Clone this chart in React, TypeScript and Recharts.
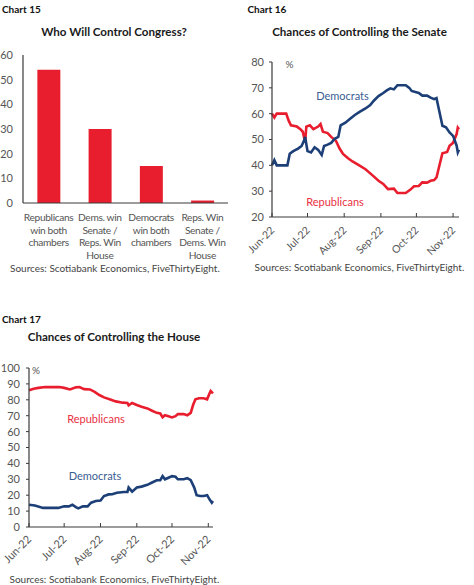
import React from 'react';
import { BarChart, Bar, XAxis, YAxis, LineChart, Line } from 'recharts';

// ---------- Data ----------
const congressCategories = [
  'Republicans\nwin both\nchambers',
  'Dems. win\nSenate /\nReps. Win\nHouse',
  'Democrats\nwin both\nchambers',
  'Reps. Win\nSenate /\nDems. Win\nHouse',
];
const congressValues = [54, 30, 15, 1];
const congressTicks = [0, 10, 20, 30, 40, 50, 60];

const monthTicks = [0, 30, 61, 92, 122, 153];
const monthLabels = ['Jun-22', 'Jul-22', 'Aug-22', 'Sep-22', 'Oct-22', 'Nov-22'];

const senateTicks = [20, 30, 40, 50, 60, 70, 80];
const senateDemDays = [0, 2, 4, 13, 15, 18, 22, 25, 27, 28, 30, 33, 36, 39, 42, 44, 47, 50, 53, 56, 58, 62, 66, 70, 74, 79, 83, 86, 90, 94, 97, 100, 103, 106, 113, 116, 118, 124, 127, 131, 134, 137, 139, 141, 144, 147, 150, 153, 156, 157, 158];
const senateDemPct = [40, 42, 40, 40, 44.5, 45.5, 46.5, 47.5, 49.5, 51, 45.5, 45, 47, 46, 44, 47.5, 48, 48.7, 50.3, 51, 55.5, 56.5, 58, 59.5, 60.7, 62, 63.3, 65, 66.8, 68, 69, 69.8, 69.4, 71, 71, 70, 68.8, 68, 67, 67, 66.2, 65.6, 66, 61.7, 55.3, 54.7, 52.7, 51.4, 47.6, 45, 46];
const senateRepDays = [0, 2, 4, 12, 14, 16, 21, 24, 26, 28, 29, 32, 35, 39, 41, 43, 47, 50, 54, 57, 60, 64, 68, 73, 79, 84, 90, 94, 98, 103, 106, 113, 117, 120, 124, 127, 131, 134, 137, 139, 142, 144, 148, 150, 153, 156, 157, 158];
const senateRepPct = [60, 58.5, 60, 60, 57.4, 55.5, 55, 54, 53, 49, 55, 55.5, 54, 55, 56, 53, 52.5, 51, 49.5, 46.6, 44.4, 42.8, 41.5, 40.2, 38.5, 36.5, 34, 32.8, 30.8, 31, 29.3, 29.3, 30.6, 31.9, 32, 33.4, 33.3, 34, 34.3, 35.3, 41, 44.7, 45.2, 47.6, 48.7, 52.1, 54.6, 54];

const houseTicks = [0, 10, 20, 30, 40, 50, 60, 70, 80, 90, 100];
const houseRepDays = [0, 4, 8, 14, 26, 30, 35, 40, 43, 47, 52, 56, 60, 64, 70, 74, 80, 84, 85, 88, 92, 96, 101, 105, 109, 112, 114, 116, 119, 122, 125, 127, 132, 135, 138, 140, 142, 145, 149, 152, 154, 155, 157];
const houseRepPct = [86, 87, 87.5, 88, 88, 87.5, 86.5, 87.8, 88, 86.7, 86.5, 85, 83, 81.5, 80, 79, 78.2, 78, 76.5, 78, 76.7, 75.6, 74.6, 73.1, 71.8, 71.4, 69, 70.3, 69.7, 68.9, 69.7, 71, 71, 70.3, 71.8, 76.7, 80.3, 81, 81, 80.3, 84, 85.5, 84];
const houseDemDays = [0, 5, 12, 25, 30, 34, 37, 40, 42, 46, 50, 53, 57, 61, 64, 68, 71, 75, 81, 84, 85, 88, 92, 96, 101, 105, 109, 112, 114, 116, 119, 122, 125, 127, 132, 135, 138, 141, 143, 146, 149, 152, 154, 156, 157];
const houseDemPct = [14, 13.5, 12, 12, 13, 13, 14, 12.5, 11.7, 13, 13, 15.3, 16.3, 16.7, 19.5, 20.5, 20.6, 21.6, 22, 22, 24.8, 22.2, 24.8, 25.4, 26.5, 28, 29.4, 29.4, 32, 30, 31, 32, 31.6, 30, 30, 30.7, 29.4, 24.8, 20, 19.5, 19.5, 20, 17.4, 15.3, 16.3];

// ---------- Styles ----------
const RED = '#E81E2E';
const BLUE = '#1C3F78';
const LABEL_BLUE = '#3A5D92';
const LABEL_RED = '#E8303F';
const AXIS = '#3a3a3a';
const TICK_TEXT = '#555';
const FONT = 'Lato, "Open Sans", sans-serif';

const toSeries = (days: number[], vals: number[]) => days.map((d, i) => ({ day: d, value: vals[i] }));
const congressData = congressCategories.map((c, i) => ({ name: c, value: congressValues[i] }));
const senateDem = toSeries(senateDemDays, senateDemPct);
const senateRep = toSeries(senateRepDays, senateRepPct);
const houseDem = toSeries(houseDemDays, houseDemPct);
const houseRep = toSeries(houseRepDays, houseRepPct);

const monthFmt = (v: number) => monthLabels[monthTicks.indexOf(v)] ?? '';

const Txt = ({ x, y, children, size = 11, color = '#222', weight = 400, align = 'center', spacing = 0 }: any) => (
  <div
    style={{
      position: 'absolute',
      left: x,
      top: y,
      transform: align === 'center' ? 'translate(-50%, -50%)' : 'translate(0, -50%)',
      fontSize: size,
      color,
      fontWeight: weight,
      whiteSpace: 'nowrap',
      lineHeight: 1,
      letterSpacing: spacing,
    }}
  >
    {children}
  </div>
);

const CatTick = (props: any) => {
  const { x, y, payload } = props;
  const lines = String(payload.value).split('\n');
  return (
    <text x={x} y={y} textAnchor="middle" fill={TICK_TEXT} fontSize={10.2} letterSpacing={-0.35}>
      {lines.map((l, i) => (
        <tspan key={i} x={x} dy={i === 0 ? 10 : 12.6}>
          {l}
        </tspan>
      ))}
    </text>
  );
};

const makeMonthTick = (fs: number, dx: number, dy: number) => (props: any) => {
  const { x, y, payload } = props;
  const ax = x + dx;
  const ay = y + dy;
  return (
    <text x={ax} y={ay} textAnchor="end" fill={TICK_TEXT} fontSize={fs} transform={`rotate(-45, ${ax}, ${ay})`}>
      {monthFmt(payload.value)}
    </text>
  );
};

const SenateTick = makeMonthTick(10.5, 3, 14);
const HouseTick = makeMonthTick(11, 3, 13);

export default function App() {
  return (
    <div
      style={{
        position: 'absolute',
        left: 0,
        top: 0,
        width: 474,
        height: 585,
        background: '#fff',
        fontFamily: FONT,
        overflow: 'hidden',
      }}
    >
      {/* Chart 15 */}
      <Txt x={2} y={8.5} size={10} weight={700} align="left" color="#111">Chart 15</Txt>
      <Txt x={114} y={32} size={11.6} weight={700} color="#1a1a1a">Who Will Control Congress?</Txt>
      <div style={{ position: 'absolute', left: 0, top: 0 }}>
        <BarChart width={237} height={280} data={congressData} margin={{ top: 55, right: 9, bottom: 5, left: 0 }} barCategoryGap="28%">
          <XAxis
            dataKey="name"
            height={72}
            interval={0}
            tickLine={false}
            axisLine={{ stroke: AXIS, strokeWidth: 1.2 }}
            tick={<CatTick />}
          />
          <YAxis
            width={23}
            domain={[0, 60]}
            ticks={congressTicks}
            interval={0}
            tickLine={false}
            tickSize={3}
            tickMargin={7}
            axisLine={{ stroke: AXIS, strokeWidth: 1.2 }}
            tick={{ fill: TICK_TEXT, fontSize: 11 }}
          />
          <Bar dataKey="value" fill={RED} isAnimationActive={false} />
        </BarChart>
      </div>
      <Txt x={10} y={268} size={10} align="left" color="#444">Sources: Scotiabank Economics, FiveThirtyEight.</Txt>

      {/* Chart 16 */}
      <Txt x={247.5} y={8.5} size={10} weight={700} align="left" color="#111">Chart 16</Txt>
      <Txt x={359.5} y={32} size={11.6} weight={700} color="#1a1a1a">Chances of Controlling the Senate</Txt>
      <div style={{ position: 'absolute', left: 237, top: 0 }}>
        <LineChart width={237} height={280} margin={{ top: 62, right: 15, bottom: 13, left: 0 }}>
          <XAxis
            type="number"
            dataKey="day"
            domain={[0, 158]}
            ticks={monthTicks}
            interval={0}
            height={50}
            tickSize={-4}
            tickMargin={4}
            tickLine={{ stroke: AXIS }}
            axisLine={{ stroke: AXIS, strokeWidth: 1.2 }}
            tick={<SenateTick />}
          />
          <YAxis
            width={35}
            domain={[20, 80]}
            ticks={senateTicks}
            interval={0}
            tickSize={3}
            tickMargin={5}
            tickLine={{ stroke: AXIS }}
            axisLine={{ stroke: AXIS, strokeWidth: 1.2 }}
            tick={{ fill: TICK_TEXT, fontSize: 11 }}
          />
          <Line data={senateRep} dataKey="value" stroke={RED} strokeWidth={2.6} dot={false} type="linear" isAnimationActive={false} />
          <Line data={senateDem} dataKey="value" stroke={BLUE} strokeWidth={2.6} dot={false} type="linear" isAnimationActive={false} />
        </LineChart>
      </div>
      <Txt x={289.5} y={63.5} size={10} color={TICK_TEXT}>%</Txt>
      <Txt x={342.5} y={95} size={11} color={LABEL_BLUE}>Democrats</Txt>
      <Txt x={335} y={201} size={11} color={LABEL_RED}>Republicans</Txt>
      <Txt x={254.5} y={267} size={10} align="left" color="#444">Sources: Scotiabank Economics, FiveThirtyEight.</Txt>

      {/* Chart 17 */}
      <Txt x={2} y={318.5} size={10} weight={700} align="left" color="#111">Chart 17</Txt>
      <Txt x={114} y={337} size={11.6} weight={700} color="#1a1a1a">Chances of Controlling the House</Txt>
      <div style={{ position: 'absolute', left: 0, top: 300 }}>
        <LineChart width={237} height={285} margin={{ top: 68, right: 24, bottom: 12, left: 0 }}>
          <XAxis
            type="number"
            dataKey="day"
            domain={[0, 157]}
            ticks={monthTicks}
            interval={0}
            height={46}
            tickSize={-4}
            tickMargin={4}
            tickLine={{ stroke: AXIS }}
            axisLine={{ stroke: AXIS, strokeWidth: 1.2 }}
            tick={<HouseTick />}
          />
          <YAxis
            width={29}
            domain={[0, 100]}
            ticks={houseTicks}
            interval={0}
            tickSize={3}
            tickMargin={6}
            tickLine={{ stroke: AXIS }}
            axisLine={{ stroke: AXIS, strokeWidth: 1.2 }}
            tick={{ fill: TICK_TEXT, fontSize: 11 }}
          />
          <Line data={houseRep} dataKey="value" stroke={RED} strokeWidth={2.6} dot={false} type="linear" isAnimationActive={false} />
          <Line data={houseDem} dataKey="value" stroke={BLUE} strokeWidth={2.6} dot={false} type="linear" isAnimationActive={false} />
        </LineChart>
      </div>
      <Txt x={36} y={370} size={10} color={TICK_TEXT}>%</Txt>
      <Txt x={96} y={418} size={11} color={LABEL_RED}>Republicans</Txt>
      <Txt x={95} y={475} size={11} color={LABEL_BLUE}>Democrats</Txt>
      <Txt x={9.5} y={579} size={10} align="left" color="#444">Sources: Scotiabank Economics, FiveThirtyEight.</Txt>
    </div>
  );
}
